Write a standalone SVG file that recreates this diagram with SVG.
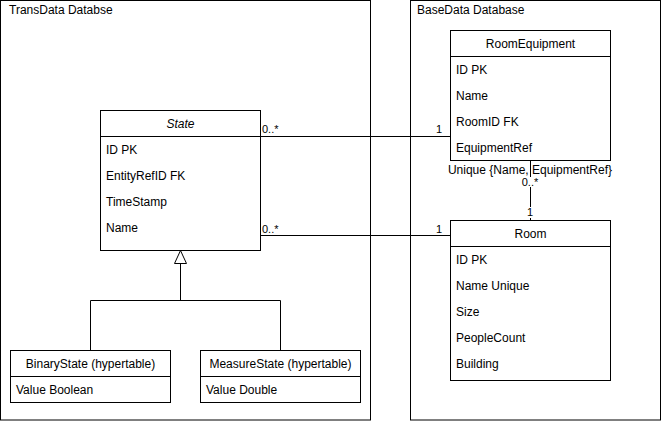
<svg xmlns="http://www.w3.org/2000/svg" width="661" height="421" viewBox="0 0 661 421">
<style>
text{font-family:"Liberation Sans",Arial,sans-serif;font-size:12px;fill:#000}
.c{text-anchor:middle}
.s{font-size:11px}
.box{fill:#fff;stroke:#000;stroke-width:1}
.cont{fill:none;stroke:#000;stroke-width:1}
.ln{fill:none;stroke:#000;stroke-width:1}
.bg{fill:#fff}
</style>
<rect width="661" height="421" fill="#fff"/>
<g id="container-transdata">
<rect class="cont" x="0.5" y="0.5" width="370" height="419.5"/>
<text x="9" y="14">TransData Databse</text>
</g>
<g id="container-basedata">
<rect class="cont" x="410.5" y="0.5" width="250" height="419.5"/>
<text x="417" y="14">BaseData Database</text>
</g>
<g id="connectors">
<path class="ln" d="M260 136.5H450"/>
<path class="ln" d="M260 235.5H450"/>
<path class="ln" d="M530.5 160V220"/>
<path class="ln" d="M180.5 263V300.5M90.5 350V300.5H280.5V350"/>
<path d="M180.5 250.5L174.5 263.5H186.5Z" fill="#fff" stroke="#000"/>
<text class="s" x="262" y="133">0..*</text>
<text class="s" x="436" y="133">1</text>
<text class="s" x="262" y="233">0..*</text>
<text class="s" x="436" y="233">1</text>
<rect class="bg" x="520" y="177" width="20" height="10"/>
<text class="s c" x="530" y="186">0..*</text>
<rect class="bg" x="525" y="207" width="11" height="11"/>
<text class="s c" x="530" y="216">1</text>
<text class="c" x="530" y="174">Unique {Name, EquipmentRef}</text>
<path class="ln" d="M530.5 160V176"/>
</g>
<g id="node-state">
<rect class="box" x="100.5" y="110.5" width="160" height="140"/>
<path class="ln" d="M100.5 136.5H260.5"/>
<text class="c" x="180.5" y="128" font-style="italic">State</text>
<text x="106" y="154">ID PK</text>
<text x="106" y="180">EntityRefID FK</text>
<text x="106" y="206">TimeStamp</text>
<text x="106" y="232">Name</text>
</g>
<g id="node-binarystate">
<rect class="box" x="10.5" y="350.5" width="160" height="52"/>
<path class="ln" d="M10.5 376.5H170.5"/>
<text class="c" x="90.5" y="368">BinaryState (hypertable)</text>
<text x="16" y="394">Value Boolean</text>
</g>
<g id="node-measurestate">
<rect class="box" x="200.5" y="350.5" width="160" height="52"/>
<path class="ln" d="M200.5 376.5H360.5"/>
<text class="c" x="280.5" y="368">MeasureState (hypertable)</text>
<text x="206" y="394">Value Double</text>
</g>
<g id="node-roomequipment">
<rect class="box" x="450.5" y="30.5" width="160" height="130"/>
<path class="ln" d="M450.5 56.5H610.5"/>
<text class="c" x="530.5" y="48">RoomEquipment</text>
<text x="456" y="74">ID PK</text>
<text x="456" y="100">Name</text>
<text x="456" y="126">RoomID FK</text>
<text x="456" y="152">EquipmentRef</text>
</g>
<g id="node-room">
<rect class="box" x="450.5" y="220.5" width="160" height="160"/>
<path class="ln" d="M450.5 246.5H610.5"/>
<text class="c" x="530.5" y="238">Room</text>
<text x="456" y="264">ID PK</text>
<text x="456" y="290">Name Unique</text>
<text x="456" y="316">Size</text>
<text x="456" y="342">PeopleCount</text>
<text x="456" y="368">Building</text>
</g>
</svg>
